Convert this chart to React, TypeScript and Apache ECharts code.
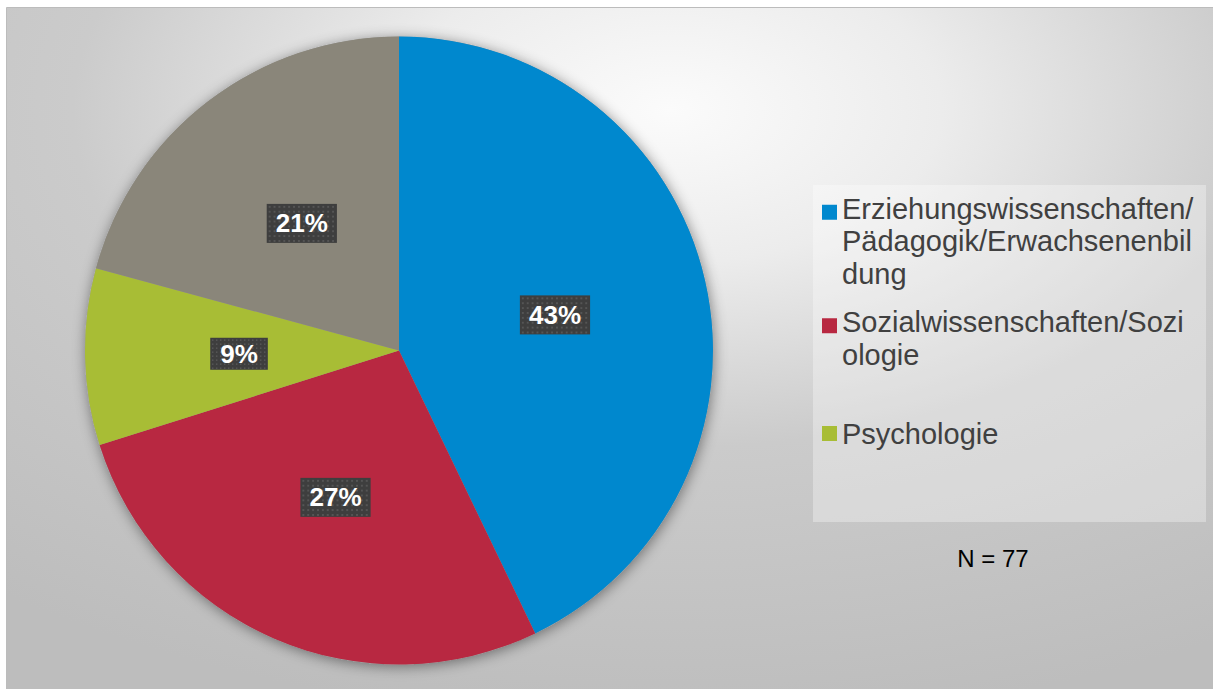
import React, { useEffect, useRef } from "react";
import * as echarts from "echarts";

const categories = [
  "Erziehungswissenschaften/Pädagogik/Erwachsenenbildung",
  "Sozialwissenschaften/Soziologie",
  "Psychologie",
  "Sonstige",
];
const legendLines = [
  ["Erziehungswissenschaften/", "Pädagogik/Erwachsenenbil", "dung"],
  ["Sozialwissenschaften/Sozi", "ologie"],
  ["Psychologie"],
];
const counts = [33, 21, 7, 16];
const colors = ["#0088CE", "#B82841", "#A8BD35", "#8A867A"];
const sampleNote = "N = 77";

const FONT = "'Liberation Sans', Arial, Helvetica, sans-serif";

function makePattern(): string | null {
  try {
    const c = document.createElement("canvas");
    c.width = 72;
    c.height = 40;
    const ctx = c.getContext("2d");
    if (!ctx) return null;
    ctx.fillStyle = "#3e3e3e";
    ctx.fillRect(0, 0, 72, 40);
    ctx.fillStyle = "#555555";
    for (let y = 2; y < 40; y += 5) {
      for (let x = 2; x < 72; x += 5) {
        ctx.fillRect(x, y, 2, 2);
      }
    }
    return c.toDataURL("image/png");
  } catch (e) {
    return null;
  }
}

export default function App() {
  const ref = useRef<HTMLDivElement>(null);
  useEffect(() => {
    if (!ref.current) return;
    const chart = echarts.init(ref.current, null, { renderer: "svg" });
    const pattern = makePattern();
    const center = [399, 350.5];
    const radius = 314;

    const legendTops = [192.25, 305.75, 417.25];
    const legends = legendLines.map((lines, i) => {
      const n = lines.length;
      const lh = 32.5;
      const itemH = n === 1 ? 15 : 7.5 + (lh * (n - 1)) / 2 + (lh * (n - 1)) / 2;
      const icon =
        n === 1 ? "rect" : `path://M0 0L15 0L15 15L0 15Z M0 ${itemH}`;
      return {
        show: true,
        data: [categories[i]],
        left: 822,
        top: legendTops[i],
        padding: 0,
        orient: "vertical",
        itemWidth: 15,
        itemHeight: itemH,
        icon,
        selectedMode: false,
        formatter: () => lines.join("\n"),
        textStyle: {
          fontFamily: FONT,
          fontSize: 29,
          lineHeight: lh,
          color: "#404040",
        },
      };
    });

    chart.setOption({
      animation: false,
      backgroundColor: "#ffffff",
      legend: legends,
      graphic: [
        {
          type: "rect",
          z: -10,
          silent: true,
          shape: { x: 6.5, y: 7.5, width: 1207, height: 682 },
          style: {
            fill: {
              type: "radial",
              x: 0.55,
              y: 0.15,
              r: 0.9,
              colorStops: [
                { offset: 0, color: "#fbfbfb" },
                { offset: 0.25, color: "#ececec" },
                { offset: 0.55, color: "#cbcbcb" },
                { offset: 1, color: "#bdbdbd" },
              ],
            },
            stroke: "#bcbcbc",
            lineWidth: 1,
          },
        },
        {
          type: "rect",
          z: -5,
          silent: true,
          shape: { x: 813, y: 185, width: 393, height: 337 },
          style: { fill: "rgba(255,255,255,0.32)" },
        },
        {
          type: "text",
          silent: true,
          x: 993,
          y: 558.5,
          style: {
            text: sampleNote,
            fontFamily: FONT,
            fontSize: 24,
            fill: "#000000",
            align: "center",
            verticalAlign: "middle",
          },
        },
      ],
      series: [
        {
          type: "pie",
          silent: true,
          center,
          radius,
          z: 1,
          label: { show: false },
          labelLine: { show: false },
          itemStyle: {
            color: "#9a9a9a",
            shadowBlur: 14,
            shadowColor: "rgba(0,0,0,0.45)",
            shadowOffsetX: 1,
            shadowOffsetY: 2,
          },
          data: [{ name: "_shadow", value: 1 }],
        },
        {
          type: "pie",
          center,
          radius,
          z: 2,
          startAngle: 90,
          clockwise: true,
          avoidLabelOverlap: false,
          itemStyle: { borderWidth: 0 },
          label: {
            show: true,
            position: "inside",
            formatter: (p: any) => Math.round(p.percent) + "%",
            fontFamily: FONT,
            fontSize: 26,
            fontWeight: "bold",
            lineHeight: 26,
            color: "#ffffff",
            backgroundColor: pattern ? { image: pattern } : "#3e3e3e",
            padding: [7, 10, 6, 10],
            shadowColor: "rgba(0,0,0,0.6)",
            shadowBlur: 7,
            shadowOffsetX: 4,
            shadowOffsetY: 5,
          },
          labelLine: { show: false },
          emphasis: { disabled: true },
          data: categories.map((name, i) => ({
            name,
            value: counts[i],
            itemStyle: { color: colors[i] },
          })),
        },
      ],
    });
    return () => chart.dispose();
  }, []);
  return (
    <div
      ref={ref}
      style={{ position: "fixed", left: 0, top: 0, width: 1213, height: 689 }}
    />
  );
}
